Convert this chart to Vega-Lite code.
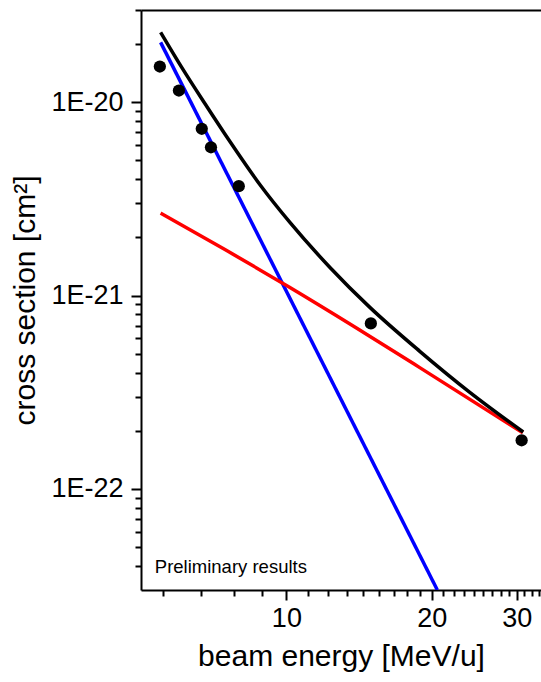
{
  "$schema": "https://vega.github.io/schema/vega-lite/v6.json",
  "width": 400,
  "height": 580,
  "autosize": {"type": "none"},
  "padding": {"left": 141, "top": 10, "right": 0, "bottom": 92},
  "config": {
    "view": {"stroke": null},
    "font": "Liberation Sans",
    "axis": {
      "grid": false,
      "labelFont": "Liberation Sans",
      "titleFont": "Liberation Sans",
      "labelColor": "#000000",
      "titleColor": "#000000",
      "domainColor": "#000000",
      "tickColor": "#000000",
      "domainWidth": 2,
      "tickWidth": 2,
      "titleFontWeight": "normal"
    }
  },
  "datasets": {
    "points": [
      {"E": 5.47, "sigma": 1.53e-20},
      {"E": 5.99, "sigma": 1.15e-20},
      {"E": 6.68, "sigma": 7.29e-21},
      {"E": 6.98, "sigma": 5.85e-21},
      {"E": 7.97, "sigma": 3.68e-21},
      {"E": 14.96, "sigma": 7.18e-22},
      {"E": 30.7, "sigma": 1.785e-22}
    ],
    "total": [
      {"E": 5.49, "sigma": 2.3e-20},
      {"E": 6.076, "sigma": 1.51e-20},
      {"E": 6.78, "sigma": 9.85e-21},
      {"E": 7.64, "sigma": 6.26e-21},
      {"E": 8.81, "sigma": 3.755e-21},
      {"E": 10.17, "sigma": 2.39e-21},
      {"E": 12.31, "sigma": 1.398e-21},
      {"E": 14.89, "sigma": 8.69e-22},
      {"E": 18.89, "sigma": 5.15e-22},
      {"E": 23.98, "sigma": 3.16e-22},
      {"E": 30.93, "sigma": 1.97e-22}
    ],
    "red": [
      {"E": 5.49, "sigma": 2.67e-21},
      {"E": 7.46, "sigma": 1.73e-21},
      {"E": 10.13, "sigma": 1.106e-21},
      {"E": 13.86, "sigma": 6.87e-22},
      {"E": 18.89, "sigma": 4.24e-22},
      {"E": 30.88, "sigma": 1.95e-22}
    ],
    "blue": [
      {"E": 5.49, "sigma": 2.04e-20},
      {"E": 20.54, "sigma": 3.0e-23}
    ],
    "note": [
      {"E": 5.34, "sigma": 3.94e-23, "label": "Preliminary results"}
    ]
  },
  "resolve": {"axis": {"x": "independent", "y": "independent"}},
  "layer": [
    {
      "data": {"name": "blue"},
      "mark": {"type": "line", "color": "#0000ff", "strokeWidth": 3.5, "clip": true},
      "encoding": {
        "x": {"field": "E", "type": "quantitative",
          "scale": {"type": "log", "domain": [5, 33.67], "nice": false, "zero": false},
          "axis": {"orient": "top", "domain": true, "ticks": false, "labels": false, "title": null}},
        "y": {"field": "sigma", "type": "quantitative",
          "scale": {"type": "log", "domain": [3e-23, 3e-20], "nice": false, "zero": false},
          "axis": null}
      }
    },
    {
      "data": {"name": "red"},
      "mark": {"type": "line", "color": "#ff0000", "strokeWidth": 3.5, "interpolate": "monotone", "clip": true},
      "encoding": {
        "x": {"field": "E", "type": "quantitative",
          "scale": {"type": "log", "domain": [5, 33.67], "nice": false, "zero": false},
          "axis": {"orient": "bottom", "domain": false, "labels": false, "title": null, "tickSize": 6,
            "values": [5.556, 6.667, 7.778, 8.889, 11.111, 12.222, 13.333, 14.444, 15.556, 16.667, 17.778, 18.889, 21.111, 22.222, 23.333, 24.444, 25.556, 26.667, 27.778, 28.889, 31.111, 32.222, 33.333]}},
        "y": {"field": "sigma", "type": "quantitative",
          "scale": {"type": "log", "domain": [3e-23, 3e-20], "nice": false, "zero": false},
          "axis": {"orient": "left", "domain": false, "labels": false, "title": null, "tickSize": 6,
            "values": [4e-23, 5e-23, 6e-23, 7e-23, 8e-23, 9e-23, 2e-22, 3e-22, 4e-22, 5e-22, 6e-22, 7e-22, 8e-22, 9e-22, 2e-21, 3e-21, 4e-21, 5e-21, 6e-21, 7e-21, 8e-21, 9e-21, 2e-20, 3e-20]}}
      }
    },
    {
      "data": {"name": "total"},
      "mark": {"type": "line", "color": "#000000", "strokeWidth": 3.5, "interpolate": "monotone", "clip": true},
      "encoding": {
        "x": {"field": "E", "type": "quantitative",
          "scale": {"type": "log", "domain": [5, 33.67], "nice": false, "zero": false},
          "axis": {"orient": "bottom", "values": [10, 20, 30], "tickSize": 10, "labelFontSize": 27, "labelPadding": 5,
            "title": "beam energy [MeV/u]", "titleFontSize": 30, "titlePadding": 10, "labelFlush": false}},
        "y": {"field": "sigma", "type": "quantitative",
          "scale": {"type": "log", "domain": [3e-23, 3e-20], "nice": false, "zero": false},
          "axis": {"orient": "left", "values": [1e-22, 1e-21, 1e-20], "tickSize": 10, "labelFontSize": 27, "labelPadding": 8,
            "labelExpr": "'1E' + round(log(datum.value)/LN10)",
            "title": "cross section [cm²]", "titleFontSize": 30, "titlePadding": 10}}
      }
    },
    {
      "data": {"name": "points"},
      "mark": {"type": "circle", "color": "#000000", "opacity": 1, "size": 150},
      "encoding": {
        "x": {"field": "E", "type": "quantitative",
          "scale": {"type": "log", "domain": [5, 33.67], "nice": false, "zero": false}, "axis": null},
        "y": {"field": "sigma", "type": "quantitative",
          "scale": {"type": "log", "domain": [3e-23, 3e-20], "nice": false, "zero": false}, "axis": null}
      }
    },
    {
      "data": {"name": "note"},
      "mark": {"type": "text", "align": "left", "baseline": "middle", "fontSize": 18.5, "font": "Liberation Sans", "color": "#000000"},
      "encoding": {
        "x": {"field": "E", "type": "quantitative",
          "scale": {"type": "log", "domain": [5, 33.67], "nice": false, "zero": false}, "axis": null},
        "y": {"field": "sigma", "type": "quantitative",
          "scale": {"type": "log", "domain": [3e-23, 3e-20], "nice": false, "zero": false}, "axis": null},
        "text": {"field": "label"}
      }
    }
  ]
}
